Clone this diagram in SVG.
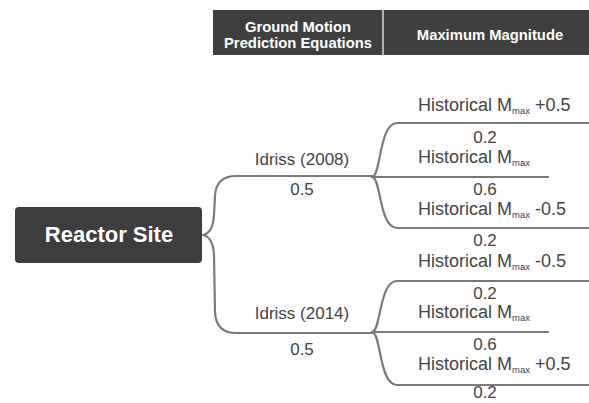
<svg xmlns="http://www.w3.org/2000/svg" width="589" height="403" viewBox="0 0 589 403">
<style>
.hdr{fill:#3f3f3f}
.ht{font-family:"Liberation Sans",Arial,sans-serif;font-weight:bold;font-size:14.8px;fill:#fff;text-anchor:middle}
.root{fill:#3d3d3d}
.rt{font-family:"Liberation Sans",Arial,sans-serif;font-weight:bold;font-size:22px;fill:#fff;text-anchor:middle}
.lbl{font-family:"Liberation Sans",Arial,sans-serif;font-size:17px;fill:#444;text-anchor:middle}
.hist{font-family:"Liberation Sans",Arial,sans-serif;font-size:18px;fill:#444}
.p{font-family:"Liberation Sans",Arial,sans-serif;font-size:17px;fill:#444;text-anchor:middle}
.c{fill:none;stroke:#7a7a7a;stroke-width:2.2;stroke-linecap:round}
</style>
<g id="header">
<rect class="hdr" x="213" y="10" width="380" height="45"/>
<line x1="383" y1="10" x2="383" y2="55" stroke="#d8d8d8" stroke-width="1.5"/>
<text class="ht" x="298" y="32">Ground Motion</text>
<text class="ht" x="298" y="48">Prediction Equations</text>
<text class="ht" x="490" y="40">Maximum Magnitude</text>
</g>
<g id="connectors">
<path class="c" d="M203,235 Q213,233 214,215 L215,196 Q216,176 236,176 L373,176"/>
<path class="c" d="M203,235 Q213,237 214,255 L215,312 Q216,333 236,333 L373,333"/>
<path class="c" d="M372,177 C381,177 379,123 397,123 L589,123"/>
<path class="c" d="M372,177 L548,177"/>
<path class="c" d="M372,177 C381,177 379,228 397,228 L589,228"/>
<path class="c" d="M372,332 C381,332 379,281 397,281 L589,281"/>
<path class="c" d="M372,332 L548,332"/>
<path class="c" d="M372,332 C381,332 379,385 397,385 L589,385"/>
</g>
<g id="reactor-site">
<rect class="root" x="15" y="207" width="187" height="56" rx="4"/>
<text class="rt" x="109" y="242">Reactor Site</text>
</g>
<g id="idriss-2008">
<text class="lbl" x="302" y="165">Idriss (2008)</text>
<text class="lbl" x="302" y="195">0.5</text>
</g>
<g id="idriss-2014">
<text class="lbl" x="302" y="319">Idriss (2014)</text>
<text class="lbl" x="302" y="355">0.5</text>
</g>
<g id="a-plus">
<text class="hist" x="418" y="111">Historical M<tspan font-size="9.5" dy="3">max</tspan><tspan dy="-3"> +0.5</tspan></text>
<text class="p" x="485" y="143">0.2</text>
</g>
<g id="a-mid">
<text class="hist" x="418" y="163">Historical M<tspan font-size="9.5" dy="3">max</tspan></text>
<text class="p" x="485" y="195">0.6</text>
</g>
<g id="a-minus">
<text class="hist" x="418" y="215">Historical M<tspan font-size="9.5" dy="3">max</tspan><tspan dy="-3"> -0.5</tspan></text>
<text class="p" x="485" y="246">0.2</text>
</g>
<g id="b-minus">
<text class="hist" x="418" y="267">Historical M<tspan font-size="9.5" dy="3">max</tspan><tspan dy="-3"> -0.5</tspan></text>
<text class="p" x="485" y="299">0.2</text>
</g>
<g id="b-mid">
<text class="hist" x="418" y="318">Historical M<tspan font-size="9.5" dy="3">max</tspan></text>
<text class="p" x="485" y="350">0.6</text>
</g>
<g id="b-plus">
<text class="hist" x="418" y="370">Historical M<tspan font-size="9.5" dy="3">max</tspan><tspan dy="-3"> +0.5</tspan></text>
<text class="p" x="485" y="398">0.2</text>
</g>
</svg>
